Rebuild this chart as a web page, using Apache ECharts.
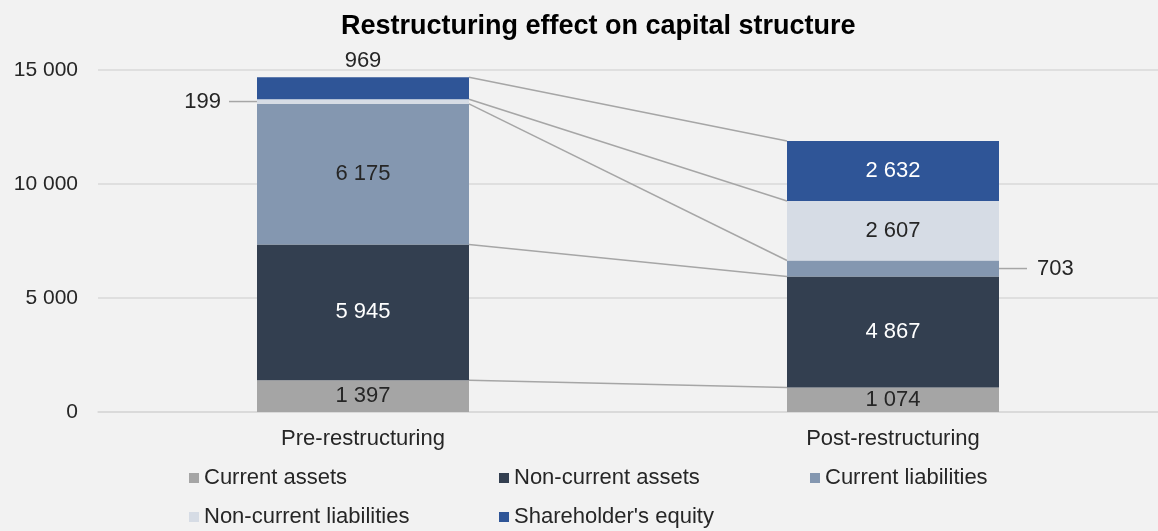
<!DOCTYPE html>
<html><head><meta charset="utf-8">
<script src="https://cdn.jsdelivr.net/npm/echarts@6/dist/echarts.min.js"></script>
<style>html,body{margin:0;padding:0;background:#f2f2f2;}#c{width:1158px;height:531px;}</style>
</head><body><div id="c"></div>
<script>
const categories = ['Pre-restructuring', 'Post-restructuring'];
const currentAssets = [1397, 1074];
const nonCurrentAssets = [5945, 4867];
const currentLiabilities = [6175, 703];
const nonCurrentLiabilities = [199, 2607];
const shareholdersEquity = [969, 2632];
const yTicks = [0, 5000, 10000, 15000];

const seriesNames = ['Current assets', 'Non-current assets', 'Current liabilities', 'Non-current liabilities', "Shareholder's equity"];
const seriesData = [currentAssets, nonCurrentAssets, currentLiabilities, nonCurrentLiabilities, shareholdersEquity];
const colors = ['#a5a5a5', '#333f50', '#8497b0', '#d6dce5', '#2f5597'];
const labelColors = ['#262626', '#ffffff', '#262626', '#262626', '#ffffff'];

const fmt = v => String(v).replace(/\B(?=(\d{3})+(?!\d))/g, ' ');
const FONT = 'Liberation Sans, Arial, sans-serif';
const FS = 22;

// cumulative boundaries for connector lines
const bounds = [];
{
  let a = 0, b = 0;
  for (let i = 0; i < seriesData.length; i++) {
    a += seriesData[i][0]; b += seriesData[i][1];
    bounds.push([a, b]);
  }
}

const barSeries = seriesNames.map((name, i) => ({
  name, type: 'bar', stack: 'total', barWidth: '40%',
  itemStyle: { color: colors[i] },
  emphasis: { disabled: true },
  label: {
    show: true, position: 'inside', color: labelColors[i], fontSize: FS, fontFamily: FONT,
    formatter: p => fmt(p.value)
  },
  data: seriesData[i].map((v, j) => {
    const d = { value: v };
    if (i === 4 && j === 0) d.label = { position: 'top', color: '#262626', distance: 5 };
    if (i === 3 && j === 0) d.label = { position: 'left', color: '#262626', distance: 36 };
    if (i === 2 && j === 1) d.label = { position: 'right', color: '#262626', distance: 38 };
    return d;
  })
}));

// connectors between bars
const connector = {
  type: 'custom', silent: true, z: 1,
  renderItem: (params, api) => {
    const band = api.size([1, 0])[0];
    const half = band * 0.2;
    const p0 = api.coord([0, api.value(0)]);
    const p1 = api.coord([1, api.value(1)]);
    return {
      type: 'line',
      shape: { x1: p0[0] + half, y1: p0[1], x2: p1[0] - half, y2: p1[1] },
      style: { stroke: '#a6a6a6', lineWidth: 1.5 }
    };
  },
  data: bounds
};

// leader lines for outside labels
const leaders = {
  type: 'custom', silent: true, z: 1,
  renderItem: (params, api) => {
    const band = api.size([1, 0])[0];
    const half = band * 0.2;
    const p = api.coord([api.value(0), api.value(1)]);
    const dir = api.value(2);
    const x0 = p[0] + dir * half;
    return {
      type: 'line',
      shape: { x1: x0, y1: p[1], x2: x0 + dir * 28, y2: p[1] },
      style: { stroke: '#a6a6a6', lineWidth: 1.5 }
    };
  },
  data: [
    [0, bounds[2][0] + nonCurrentLiabilities[0] / 2, -1],
    [1, bounds[1][1] + currentLiabilities[1] / 2, 1]
  ]
};

const chart = echarts.init(document.getElementById('c'), null, { renderer: 'canvas' });
const legendCommon = {
  orient: 'vertical', itemWidth: 10, itemHeight: 10, itemGap: 17, icon: 'rect',
  padding: 0, height: 70,
  textStyle: { fontSize: FS, color: '#262626', fontFamily: FONT, padding: [0, 0, 0, 0] },
  selectedMode: false
};
chart.setOption({
  backgroundColor: '#f2f2f2',
  animation: false,
  title: {
    text: 'Restructuring effect on capital structure', left: 336, top: 8,
    textStyle: { fontSize: 27, fontWeight: 'bold', color: '#000', fontFamily: FONT }
  },
  legend: [
    Object.assign({}, legendCommon, { left: 189, top: 467, data: [seriesNames[0], seriesNames[3]] }),
    Object.assign({}, legendCommon, { left: 499, top: 467, data: [seriesNames[1], seriesNames[4]] }),
    Object.assign({}, legendCommon, { left: 810, top: 467, data: [seriesNames[2]] })
  ],
  grid: { left: 98, right: 0, top: 70, bottom: 119 },
  xAxis: {
    type: 'category', data: categories,
    axisLine: { lineStyle: { color: '#d9d9d9', width: 1.5 } },
    axisTick: { show: false },
    axisLabel: { fontSize: FS, color: '#262626', fontFamily: FONT, margin: 16 }
  },
  yAxis: {
    type: 'value', min: 0, max: 15000, interval: 5000,
    splitLine: { lineStyle: { color: '#d9d9d9', width: 1.5 } },
    axisLabel: {
      fontSize: 21, color: '#262626', fontFamily: FONT, margin: 20,
      formatter: v => yTicks.includes(v) ? fmt(v) : ''
    }
  },
  series: [connector, leaders].concat(barSeries)
});
</script></body></html>
